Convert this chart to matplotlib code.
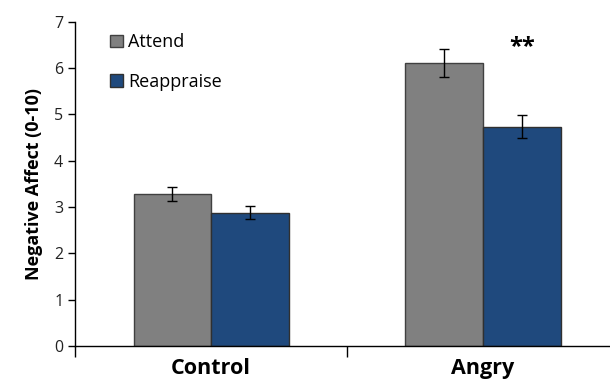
import numpy as np
import matplotlib
matplotlib.use("Agg")
import matplotlib.pyplot as plt

# Data
conditions = ["Control", "Angry"]
attend = [3.29, 6.11]
attend_err = [0.15, 0.30]
reappraise = [2.88, 4.74]
reappraise_err = [0.14, 0.25]

plt.rcParams['font.family'] = ['Open Sans', 'DejaVu Sans']

fig = plt.figure(figsize=(6.1, 3.84), dpi=100)
ax = fig.add_axes([0.123, 0.099, 0.877, 0.844])

x = np.arange(len(conditions))
w = 0.285
err_kw = dict(ecolor='black', elinewidth=1.0, capsize=3.5, capthick=1.0)
ax.bar(x - w / 2, attend, w, yerr=attend_err, color='#808080',
       edgecolor='#404040', linewidth=1.0, label='Attend', error_kw=err_kw)
ax.bar(x + w / 2, reappraise, w, yerr=reappraise_err, color='#1F497D',
       edgecolor='#303030', linewidth=1.0, label='Reappraise', error_kw=err_kw)

# significance marker
ax.text(x[1] + w / 2, 6.2, '**', ha='center', va='bottom', fontsize=17,
        fontweight='bold')

ax.set_yticks(range(0, 8))
ax.tick_params(axis='y', labelsize=11.5, labelcolor='#222222', length=5,
               direction='out', width=1)
ax.set_xticks([-0.5, 0.5, 1.5])
ax.set_xticklabels([])
ax.tick_params(axis='x', length=8, width=1, direction='out')
ax.set_xticks(x, minor=True)
ax.set_xticklabels(conditions, minor=True, fontsize=15.5, fontweight='bold')
ax.tick_params(axis='x', which='minor', length=0, pad=9)
# limits after ticks, since set_xticks widens the view
ax.set_xlim(-0.5, 1.467)
ax.set_ylim(0, 7)

ax.set_ylabel('Negative Affect (0-10)', fontsize=13, fontweight='bold',
              labelpad=8)
for s in ['top', 'right']:
    ax.spines[s].set_visible(False)
ax.spines['left'].set_linewidth(1)
ax.spines['bottom'].set_linewidth(1)

ax.legend(loc='upper left', bbox_to_anchor=(0.035, 1.015), frameon=False,
          fontsize=13, handlelength=0.7, handleheight=0.7,
          handletextpad=0.3, labelspacing=1.2)

fig.savefig('out.png', dpi=100)
